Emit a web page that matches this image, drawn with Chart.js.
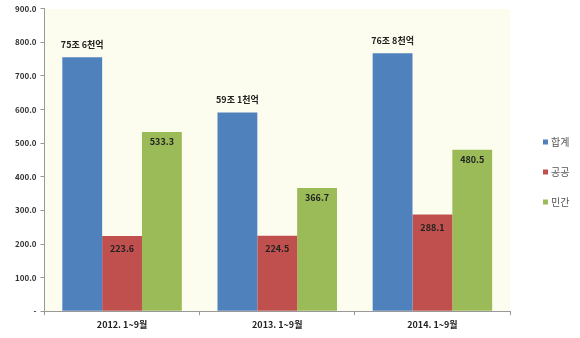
<!DOCTYPE html>
<html>
<head>
<meta charset="utf-8">
<script src="https://cdn.jsdelivr.net/npm/chart.js@4/dist/chart.umd.min.js"></script>
<style>
  html, body { margin: 0; padding: 0; background: #fff; }
  #wrap { width: 580px; height: 338px; }
</style>
</head>
<body>
<div id="wrap"><canvas id="chart"></canvas></div>
<script>
const periods = ["2012. 1~9월", "2013. 1~9월", "2014. 1~9월"];
const totalValues = [756, 591, 768];
const totalLabels = ["75조 6천억", "59조 1천억", "76조 8천억"];
const publicValues = [223.6, 224.5, 288.1];
const privateValues = [533.3, 366.7, 480.5];
const seriesNames = ["합계", "공공", "민간"];

const FONT = "'Noto Sans CJK KR', 'Noto Sans', sans-serif";

// cream fill behind the bars
const plotBackground = {
  id: "plotBackground",
  beforeDraw(chart) {
    const { ctx, chartArea: a } = chart;
    ctx.save();
    ctx.fillStyle = "#fdfdef";
    ctx.fillRect(a.left, a.top, a.right - a.left, a.bottom - a.top);
    ctx.restore();
  }
};

// value text: totals above the bar, the rest just inside the top
const barLabels = {
  id: "barLabels",
  afterDatasetsDraw(chart) {
    const ctx = chart.ctx;
    ctx.save();
    ctx.textAlign = "center";
    ctx.textBaseline = "middle";
    ctx.font = "bold 9px " + FONT;
    ctx.fillStyle = "#222";
    chart.data.datasets.forEach((ds, i) => {
      chart.getDatasetMeta(i).data.forEach((bar, j) => {
        if (i === 0) {
          ctx.fillText(totalLabels[j], bar.x, bar.y - 13);
        } else {
          const off = i === 1 ? 13 : 10;
          ctx.fillText(ds.data[j].toFixed(1), bar.x, bar.y + off);
        }
      });
    });
    ctx.restore();
  }
};

// series key to the right of the plot, one row per dataset
const sideLegend = {
  id: "sideLegend",
  afterDraw(chart) {
    const { ctx, chartArea: a } = chart;
    ctx.save();
    ctx.font = "10px " + FONT;
    ctx.textBaseline = "middle";
    ctx.fillStyle = "#555";
    chart.data.datasets.forEach((ds, i) => {
      const y = 142 + i * 30;
      const x = a.right + 33;
      ctx.fillStyle = ds.backgroundColor;
      ctx.fillRect(x, y - 2.5, 5, 5);
      ctx.fillStyle = "#555";
      ctx.fillText(ds.label, x + 8, y);
    });
    ctx.restore();
  }
};

new Chart(document.getElementById("chart"), {
  type: "bar",
  data: {
    labels: periods,
    datasets: [
      { label: seriesNames[0], data: totalValues, backgroundColor: "#4f81bd" },
      { label: seriesNames[1], data: publicValues, backgroundColor: "#c0504d" },
      { label: seriesNames[2], data: privateValues, backgroundColor: "#9bbb59" }
    ]
  },
  options: {
    responsive: true,
    maintainAspectRatio: false,
    animation: false,
    datasets: { bar: { categoryPercentage: 0.77, barPercentage: 1.0 } },
    layout: { padding: { top: 4, left: 11, right: 70, bottom: 4 } },
    plugins: {
      tooltip: { enabled: false },
      legend: { display: false }
    },
    scales: {
      x: {
        grid: { drawOnChartArea: false, tickLength: 4, color: "#999" },
        border: { color: "#999" },
        ticks: { color: "#222", font: { family: FONT, size: 9, weight: "bold" }, padding: 4 }
      },
      y: {
        min: 0,
        max: 900,
        grid: { drawOnChartArea: false, tickLength: 4, color: "#999" },
        border: { color: "#999" },
        ticks: {
          stepSize: 100,
          color: "#333",
          padding: 4,
          font: { family: FONT, size: 8, weight: "bold" },
          callback: v => v === 0 ? "-" : v.toFixed(1)
        }
      }
    }
  },
  plugins: [plotBackground, barLabels, sideLegend]
});
</script>
</body>
</html>
